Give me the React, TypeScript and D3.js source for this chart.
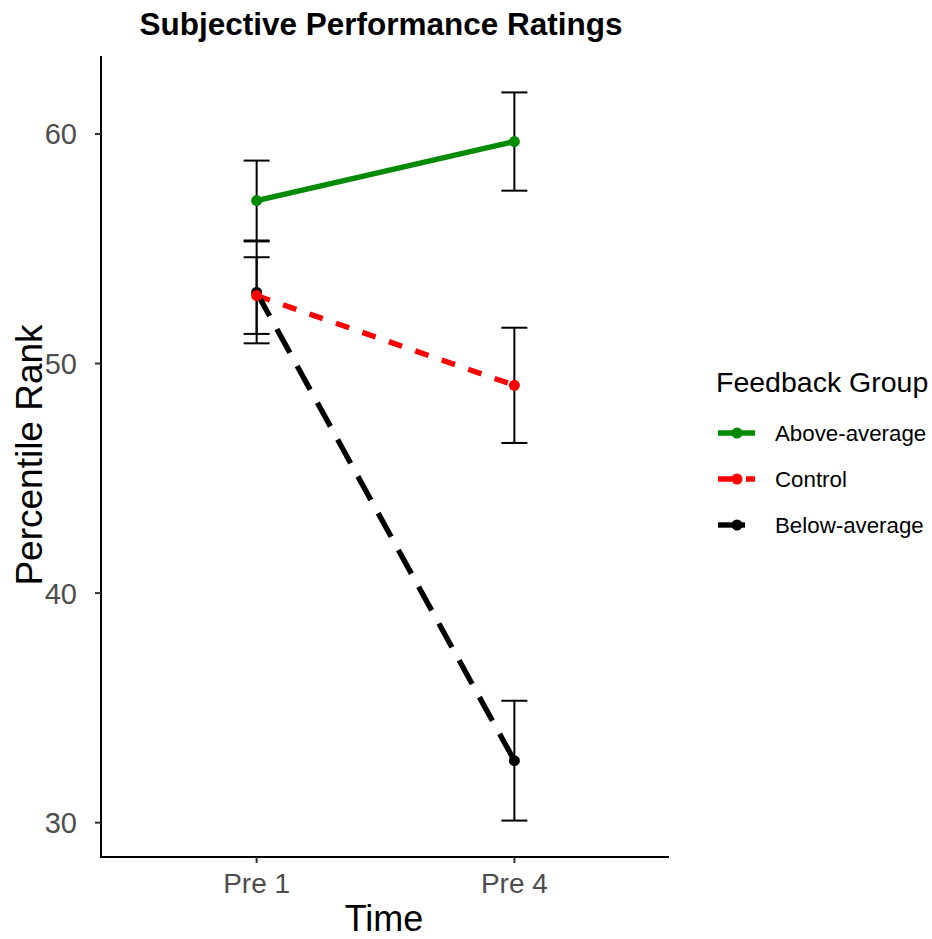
import React from "react";
import * as d3 from "d3";

const times = ["Pre 1", "Pre 4"];
const groups = ["Above-average", "Control", "Below-average"];
const aboveMean = [57.1, 59.67];
const aboveSE = [1.74, 2.14];
const controlMean = [52.96, 49.05];
const controlSE = [1.67, 2.51];
const belowMean = [53.1, 32.7];
const belowSE = [2.22, 2.61];
const yTicks = [30, 40, 50, 60];

const colors: Record<string, string> = {
  "Above-average": "#008B00",
  Control: "#FF0000",
  "Below-average": "#000000",
};
const dashes: Record<string, string | undefined> = {
  "Above-average": undefined,
  Control: "14,14",
  "Below-average": "27,15",
};

const W = 932;
const H = 939;
const FONT = "'Liberation Sans', Arial, Helvetica, sans-serif";

export default function App() {
  const series = [
    { name: groups[0], mean: aboveMean, se: aboveSE },
    { name: groups[1], mean: controlMean, se: controlSE },
    { name: groups[2], mean: belowMean, se: belowSE },
  ].map((s) => ({
    name: s.name,
    pts: times.map((t, i) => ({ t, m: s.mean[i], lo: s.mean[i] - s.se[i], hi: s.mean[i] + s.se[i] })),
  }));

  const all = series.flatMap((s) => s.pts);
  const lo = d3.min(all, (d) => d.lo)!;
  const hi = d3.max(all, (d) => d.hi)!;
  const pad = (hi - lo) * 0.05;

  const left = 101;
  const right = 669;
  const top = 56;
  const bottom = 857;

  const x = d3.scalePoint<string>().domain(times).range([left + 1, right]).padding(0.6);
  const y = d3.scaleLinear().domain([lo - pad, hi + pad]).range([bottom, top]);

  const line = d3
    .line<{ t: string; m: number }>()
    .x((d) => x(d.t)!)
    .y((d) => y(d.m));

  const capHalf = 13;
  const legendX = 716;
  const keyYs = [433, 479, 525];
  const LW = 5.4;

  return (
    <svg width={W} height={H} style={{ position: "absolute", left: 0, top: 0 }}>
      <rect width={W} height={H} fill="#ffffff" />
      {/* title */}
      <text x={381} y={35} textAnchor="middle" fontFamily={FONT} fontWeight="bold" fontSize={31.5} fill="#000">
        Subjective Performance Ratings
      </text>

      {/* error bars */}
      {series.map((s) =>
        s.pts.map((p, i) => {
          const cx = x(p.t)!;
          return (
            <g key={s.name + i} stroke="#000" strokeWidth={2}>
              <line x1={cx} x2={cx} y1={y(p.hi)} y2={y(p.lo)} />
              <line x1={cx - capHalf} x2={cx + capHalf} y1={y(p.hi)} y2={y(p.hi)} />
              <line x1={cx - capHalf} x2={cx + capHalf} y1={y(p.lo)} y2={y(p.lo)} />
            </g>
          );
        })
      )}

      {/* lines */}
      {series.map((s) => (
        <path
          key={s.name}
          d={line(s.pts) || ""}
          fill="none"
          stroke={colors[s.name]}
          strokeWidth={LW}
          strokeDasharray={dashes[s.name]}
        />
      ))}

      {/* points */}
      {[...series].reverse().map((s) =>
        s.pts.map((p, i) => (
          <circle key={s.name + "p" + i} cx={x(p.t)!} cy={y(p.m)} r={5.5} fill={colors[s.name]} />
        ))
      )}

      {/* axes */}
      <line x1={left} x2={left} y1={top} y2={bottom + 1} stroke="#000" strokeWidth={2} />
      <line x1={left} x2={right} y1={bottom} y2={bottom} stroke="#000" strokeWidth={2} />
      {yTicks.map((t) => (
        <g key={t}>
          <line x1={left - 6} x2={left} y1={y(t)} y2={y(t)} stroke="#333" strokeWidth={2} />
          <text
            x={left - 24}
            y={y(t)}
            dy="0.36em"
            textAnchor="end"
            fontFamily={FONT}
            fontSize={29}
            fill="#4D4D4D"
          >
            {t}
          </text>
        </g>
      ))}
      {times.map((t) => (
        <g key={t}>
          <line x1={x(t)!} x2={x(t)!} y1={bottom} y2={bottom + 6} stroke="#333" strokeWidth={2} />
          <text x={x(t)!} y={893} textAnchor="middle" fontFamily={FONT} fontSize={28} fill="#4D4D4D">
            {t}
          </text>
        </g>
      ))}

      {/* axis titles */}
      <text x={384} y={931} textAnchor="middle" fontFamily={FONT} fontSize={36} fill="#000">
        Time
      </text>
      <text
        transform={`translate(42,${(323 + 587) / 2}) rotate(-90)`}
        textAnchor="middle"
        fontFamily={FONT}
        fontSize={37}
        fill="#000"
      >
        Percentile Rank
      </text>

      {/* legend */}
      <text x={legendX} y={392} fontFamily={FONT} fontSize={28.5} fill="#000">
        Feedback Group
      </text>
      {series.map((s, i) => (
        <g key={s.name + "leg"}>
          <line
            x1={718}
            x2={755}
            y1={keyYs[i]}
            y2={keyYs[i]}
            stroke={colors[s.name]}
            strokeWidth={LW}
            strokeDasharray={dashes[s.name]}
          />
          <circle cx={737} cy={keyYs[i]} r={5.5} fill={colors[s.name]} />
          <text x={775} y={keyYs[i]} dy="0.35em" fontFamily={FONT} fontSize={22.3} fill="#000">
            {s.name}
          </text>
        </g>
      ))}
    </svg>
  );
}
